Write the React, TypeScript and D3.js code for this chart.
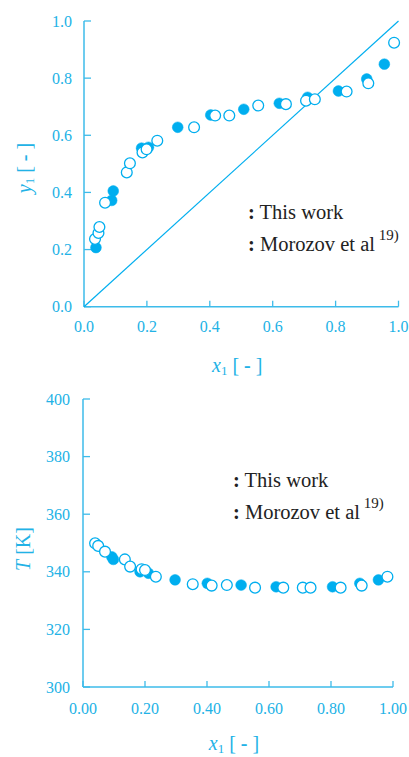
import React from "react";
import * as d3 from "d3";

// y1 - x1 (VLE)
const vleWorkX = [0.038, 0.088, 0.093, 0.183, 0.205, 0.298, 0.403, 0.508, 0.621, 0.711, 0.809, 0.899, 0.955];
const vleWorkY = [0.207, 0.372, 0.405, 0.555, 0.558, 0.628, 0.671, 0.691, 0.712, 0.733, 0.755, 0.797, 0.849];
const vleLitX = [0.035, 0.046, 0.049, 0.067, 0.136, 0.146, 0.186, 0.199, 0.233, 0.35, 0.417, 0.462, 0.554, 0.642, 0.706, 0.734, 0.835, 0.904, 0.986];
const vleLitY = [0.237, 0.258, 0.279, 0.364, 0.47, 0.502, 0.54, 0.551, 0.581, 0.628, 0.669, 0.669, 0.704, 0.709, 0.721, 0.726, 0.753, 0.782, 0.924];

// T - x1
const tWorkX = [0.093, 0.098, 0.184, 0.211, 0.297, 0.401, 0.51, 0.623, 0.805, 0.893, 0.953];
const tWorkT = [345.2, 344.3, 340.0, 339.5, 337.2, 336.0, 335.4, 334.8, 334.8, 336.0, 337.2];
const tLitX = [0.039, 0.049, 0.071, 0.135, 0.152, 0.189, 0.2, 0.235, 0.354, 0.415, 0.464, 0.555, 0.646, 0.709, 0.734, 0.831, 0.899, 0.982];
const tLitT = [349.9, 349.0, 347.0, 344.3, 341.8, 340.9, 340.6, 338.3, 335.7, 335.2, 335.4, 334.5, 334.5, 334.5, 334.5, 334.5, 335.2, 338.3];

const topTicks = [0, 0.2, 0.4, 0.6, 0.8, 1.0];
const tTicks = [300, 320, 340, 360, 380, 400];
const legendLabels = ["This work", "Morozov et al"];
const legendRef = "19)";

const AXIS = "#3dbbea";
const LABEL = "#22b2e6";
const MARK = "#00aeef";
const FONT = "Liberation Serif, DejaVu Serif, serif";

function Axes({ x, y, xTicks, yTicks, xFmt, yFmt, xLabY, yLabRight, yTitle, xTitleY, yTitleX }) {
  const [x0, x1] = x.range();
  const [y0, y1] = y.range();
  const lab = { fontFamily: FONT, fontSize: 16 };
  return (
    <g>
      <line x1={x0} x2={x1} y1={y0} y2={y0} stroke={AXIS} strokeWidth={1.5} />
      <line x1={x0} x2={x0} y1={y0} y2={y1} stroke={AXIS} strokeWidth={1.5} />
      {xTicks.map((t) => (
        <g key={"x" + t}>
          <line x1={x(t)} x2={x(t)} y1={y0} y2={y0 - 6} stroke={AXIS} strokeWidth={1.3} />
          <text x={x(t)} y={xLabY} textAnchor="middle" fill={LABEL} style={lab}>
            {xFmt(t)}
          </text>
        </g>
      ))}
      {yTicks.map((t) => (
        <g key={"y" + t}>
          <line x1={x0} x2={x0 + 7} y1={y(t)} y2={y(t)} stroke={AXIS} strokeWidth={1.3} />
          <text x={yLabRight} y={y(t) + 5.5} textAnchor="end" fill={LABEL} style={lab}>
            {yFmt(t)}
          </text>
        </g>
      ))}
      <text x={(x0 + x1) / 2 - 4} y={xTitleY} textAnchor="middle" fill={LABEL} style={{ fontFamily: FONT, fontSize: 20 }}>
        <tspan fontStyle="italic">x</tspan>
        <tspan style={{ fontSize: 13 }} dy={3}>1</tspan>
        <tspan dy={-3}> [ </tspan>
        <tspan fontWeight="bold">-</tspan>
        <tspan> ]</tspan>
      </text>
      <g transform={`translate(${yTitleX},${yTitle.cy}) rotate(-90)`}>
        {yTitle.node}
      </g>
    </g>
  );
}

function Legend({ x, y, gap }) {
  return (
    <g fill="#222">
      {legendLabels.map((l, i) => (
        <text key={l} x={x} y={y + i * gap} style={{ fontFamily: FONT, fontSize: 20.5 }}>
          <tspan fontWeight="bold">:</tspan>
          <tspan> {l}</tspan>
          {i === 1 && (
            <tspan style={{ fontSize: 15 }} dy={-11}> {legendRef}</tspan>
          )}
        </text>
      ))}
    </g>
  );
}

function Points({ xs, ys, x, y, open }) {
  return (
    <g>
      {xs.map((v, i) => (
        <circle
          key={i}
          cx={x(v)}
          cy={y(ys[i])}
          r={5.4}
          fill={open ? "#fff" : MARK}
          stroke={MARK}
          strokeWidth={open ? 1.3 : 0.5}
        />
      ))}
    </g>
  );
}

export default function App() {
  const xTop = d3.scaleLinear().domain([0, 1]).range([84, 398.5]);
  const yTop = d3.scaleLinear().domain([0, 1]).range([306.7, 21]);
  const xBot = d3.scaleLinear().domain([0, 1]).range([83, 393]);
  const yBot = d3.scaleLinear().domain([300, 400]).range([687, 399]);
  const diag = d3.line<number>().x((d) => xTop(d)).y((d) => yTop(d));
  const titleStyle = { fontFamily: FONT, fontSize: 20 };

  return (
    <div style={{ position: "absolute", left: 0, top: 0 }}>
      <svg width={409} height={757} style={{ display: "block", background: "#fff" }}>
        <Axes
          x={xTop}
          y={yTop}
          xTicks={topTicks}
          yTicks={topTicks}
          xFmt={d3.format(".1f")}
          yFmt={d3.format(".1f")}
          xLabY={332}
          yLabRight={72}
          xTitleY={372}
          yTitleX={31}
          yTitle={{
            cy: 168,
            node: (
              <text textAnchor="middle" fill={LABEL} style={titleStyle}>
                <tspan fontStyle="italic">y</tspan>
                <tspan style={{ fontSize: 13 }} dy={3}>1</tspan>
                <tspan dy={-3}> [ </tspan>
                <tspan fontWeight="bold">-</tspan>
                <tspan> ]</tspan>
              </text>
            ),
          }}
        />
        <path d={diag([0, 1]) || ""} stroke={MARK} strokeWidth={1.2} fill="none" />
        <Points xs={vleWorkX} ys={vleWorkY} x={xTop} y={yTop} open={false} />
        <Points xs={vleLitX} ys={vleLitY} x={xTop} y={yTop} open={true} />
        <Legend x={248} y={219} gap={32} />

        <Axes
          x={xBot}
          y={yBot}
          xTicks={topTicks}
          yTicks={tTicks}
          xFmt={d3.format(".2f")}
          yFmt={d3.format("d")}
          xLabY={714}
          yLabRight={70}
          xTitleY={750}
          yTitleX={30}
          yTitle={{
            cy: 549,
            node: (
              <text textAnchor="middle" fill={LABEL} style={titleStyle}>
                <tspan fontStyle="italic">T</tspan>
                <tspan> [K]</tspan>
              </text>
            ),
          }}
        />
        <Points xs={tWorkX} ys={tWorkT} x={xBot} y={yBot} open={false} />
        <Points xs={tLitX} ys={tLitT} x={xBot} y={yBot} open={true} />
        <Legend x={233} y={487} gap={32} />
      </svg>
    </div>
  );
}
